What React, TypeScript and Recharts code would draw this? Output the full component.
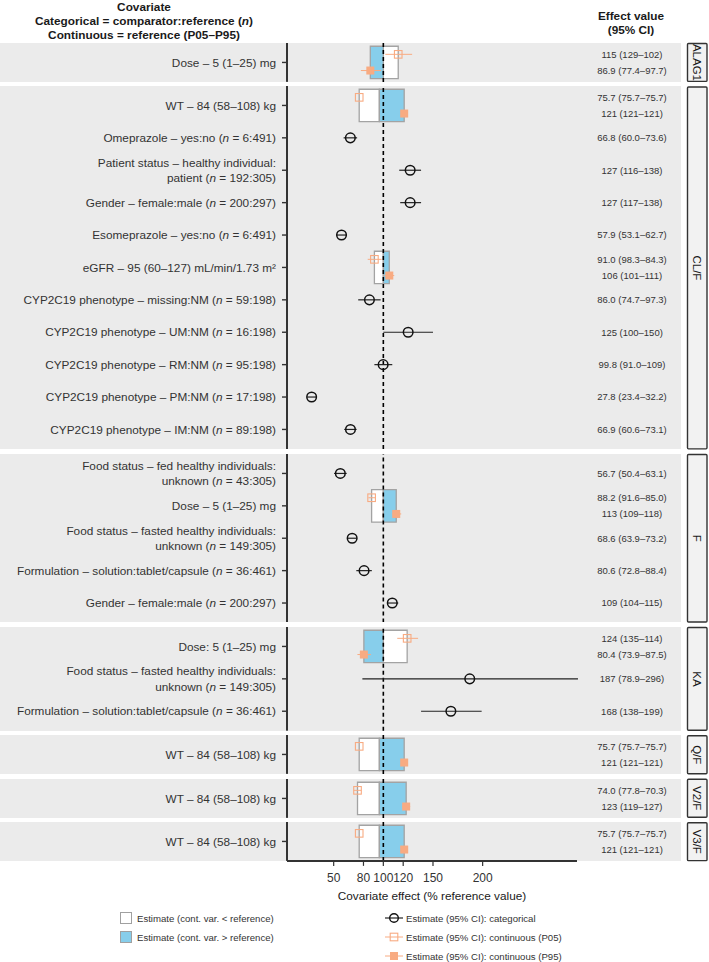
import React from 'react';
import {
  ComposedChart,
  XAxis,
  YAxis,
  Scatter,
  ErrorBar,
  ReferenceArea,
  ReferenceLine,
} from 'recharts';

const _ = null;

const facetNames = ['ALAG1', 'CL/F', 'F', 'KA', 'Q/F', 'V2/F', 'V3/F'];

const rowFacet = [
  'ALAG1',
  'CL/F', 'CL/F', 'CL/F', 'CL/F', 'CL/F', 'CL/F', 'CL/F', 'CL/F', 'CL/F', 'CL/F', 'CL/F',
  'F', 'F', 'F', 'F', 'F',
  'KA', 'KA', 'KA',
  'Q/F',
  'V2/F',
  'V3/F',
];

const rowLabels = [
  'Dose – 5 (1–25) mg',
  'WT – 84 (58–108) kg',
  'Omeprazole – yes:no (n = 6:491)',
  'Patient status – healthy individual:\npatient (n = 192:305)',
  'Gender – female:male (n = 200:297)',
  'Esomeprazole – yes:no (n = 6:491)',
  'eGFR – 95 (60–127) mL/min/1.73 m²',
  'CYP2C19 phenotype – missing:NM (n = 59:198)',
  'CYP2C19 phenotype – UM:NM (n = 16:198)',
  'CYP2C19 phenotype – RM:NM (n = 95:198)',
  'CYP2C19 phenotype – PM:NM (n = 17:198)',
  'CYP2C19 phenotype – IM:NM (n = 89:198)',
  'Food status – fed healthy individuals:\nunknown (n = 43:305)',
  'Dose – 5 (1–25) mg',
  'Food status – fasted healthy individuals:\nunknown (n = 149:305)',
  'Formulation – solution:tablet/capsule (n = 36:461)',
  'Gender – female:male (n = 200:297)',
  'Dose: 5 (1–25) mg',
  'Food status – fasted healthy individuals:\nunknown (n = 149:305)',
  'Formulation – solution:tablet/capsule (n = 36:461)',
  'WT – 84 (58–108) kg',
  'WT – 84 (58–108) kg',
  'WT – 84 (58–108) kg',
];

// categorical covariates: estimate and 95% CI
const catEst = [_, _, 66.8, 127, 127, 57.9, _, 86.0, 125, 99.8, 27.8, 66.9, 56.7, _, 68.6, 80.6, 109, _, 187, 168, _, _, _];
const catLo = [_, _, 60.0, 116, 117, 53.1, _, 74.7, 100, 91.0, 23.4, 60.6, 50.4, _, 63.9, 72.8, 104, _, 78.9, 138, _, _, _];
const catHi = [_, _, 73.6, 138, 138, 62.7, _, 97.3, 150, 109, 32.2, 73.1, 63.1, _, 73.2, 88.4, 115, _, 296, 199, _, _, _];

// continuous covariates at P05 / P95 (CI as printed)
const p05Est = [115, 75.7, _, _, _, _, 91.0, _, _, _, _, _, _, 88.2, _, _, _, 124, _, _, 75.7, 74.0, 75.7];
const p05CiA = [129, 75.7, _, _, _, _, 98.3, _, _, _, _, _, _, 91.6, _, _, _, 135, _, _, 75.7, 77.8, 75.7];
const p05CiB = [102, 75.7, _, _, _, _, 84.3, _, _, _, _, _, _, 85.0, _, _, _, 114, _, _, 75.7, 70.3, 75.7];
const p95Est = [86.9, 121, _, _, _, _, 106, _, _, _, _, _, _, 113, _, _, _, 80.4, _, _, 121, 123, 121];
const p95CiA = [77.4, 121, _, _, _, _, 101, _, _, _, _, _, _, 109, _, _, _, 73.9, _, _, 121, 119, 121];
const p95CiB = [97.7, 121, _, _, _, _, 111, _, _, _, _, _, _, 118, _, _, _, 87.5, _, _, 121, 127, 121];
const boxBase = [100, 96, _, _, _, _, 100, _, _, _, _, _, _, 100, _, _, _, 100, _, _, 96, 96, 96];

const xTicks = [50, 80, 100, 120, 150, 200];

const FONT = '"Liberation Sans", Arial, Helvetica, sans-serif';
const ORANGE = '#F8AB82';
const BLUE = '#87CEEB';
const BOX_LINE = '#A3A3A3';
const ROW = 32.4;
const GAP = 4.6;
const TOP = 43;
const PANEL_W = 681;
const LEFT_W = 287;
const RIGHT_W = 104;

const fmt = (v: number) => (v >= 100 ? v.toFixed(0) : v.toFixed(1));

function rich(line: string) {
  const k = line.indexOf('(n ');
  if (k < 0) return line;
  return (
    <>
      {line.slice(0, k + 1)}
      <tspan fontStyle="italic">n</tspan>
      {line.slice(k + 2)}
    </>
  );
}

const OpenCircle = (p: any) => (
  <circle cx={p.cx} cy={p.cy} r={4.8} fill="none" stroke="#111" strokeWidth={1.5} />
);
const OpenSquare = (p: any) => (
  <rect x={p.cx - 3.8} y={p.cy - 3.8} width={7.6} height={7.6} fill="none" stroke={ORANGE} strokeWidth={1.1} />
);
const FullSquare = (p: any) => (
  <rect x={p.cx - 4} y={p.cy - 4} width={8} height={8} fill={ORANGE} stroke="none" />
);

function buildFacets() {
  let top = TOP;
  return facetNames.map((name) => {
    const rows = rowFacet.map((f, i) => (f === name ? i : -1)).filter((i) => i >= 0);
    const h = (rows.length + 0.2) * ROW;
    const out = { name, rows, top, h };
    top += h + GAP;
    return out;
  });
}

function FacetChart({ rows, h, last }: { rows: number[]; h: number; last: boolean }) {
  const n = rows.length;
  const domain = [-0.6, n - 0.4];
  const ticks = rows.map((_g, i) => i);

  const cat: any[] = [];
  const p05: any[] = [];
  const p95: any[] = [];
  const boxes: any[] = [];
  rows.forEach((g, i) => {
    if (catEst[g] != null) {
      cat.push({ x: catEst[g], y: i, err: [catEst[g]! - catLo[g]!, catHi[g]! - catEst[g]!] });
    }
    if (p05Est[g] != null) {
      const lo5 = Math.min(p05CiA[g]!, p05CiB[g]!);
      const hi5 = Math.max(p05CiA[g]!, p05CiB[g]!);
      const lo95 = Math.min(p95CiA[g]!, p95CiB[g]!);
      const hi95 = Math.max(p95CiA[g]!, p95CiB[g]!);
      p05.push({ x: p05Est[g], y: i - 0.25, err: [p05Est[g]! - lo5, hi5 - p05Est[g]!] });
      p95.push({ x: p95Est[g], y: i + 0.25, err: [p95Est[g]! - lo95, hi95 - p95Est[g]!] });
      boxes.push({ a: boxBase[g], b: p05Est[g], y: i, fill: '#FFFFFF' });
      boxes.push({ a: boxBase[g], b: p95Est[g], y: i, fill: BLUE });
    }
  });

  const LeftTick = (props: any) => {
    const g = rows[props.payload.value];
    const lines = rowLabels[g].split('\n');
    return (
      <text x={props.x} y={props.y} textAnchor="end" fontSize={11.8} fill="#333" fontFamily={FONT}>
        {lines.map((ln, k) => (
          <tspan key={k} x={props.x} y={props.y + (k - (lines.length - 1) / 2) * 15.5} dy="0.36em">
            {rich(ln)}
          </tspan>
        ))}
      </text>
    );
  };

  const RightTick = (props: any) => {
    const g = rows[props.payload.value];
    const lines =
      catEst[g] != null
        ? [`${fmt(catEst[g]!)} (${fmt(catLo[g]!)}–${fmt(catHi[g]!)})`]
        : [
            `${fmt(p05Est[g]!)} (${fmt(p05CiA[g]!)}–${fmt(p05CiB[g]!)})`,
            `${fmt(p95Est[g]!)} (${fmt(p95CiA[g]!)}–${fmt(p95CiB[g]!)})`,
          ];
    const cx = props.x + 55;
    return (
      <text x={cx} y={props.y} textAnchor="middle" fontSize={9.5} fill="#333" fontFamily={FONT}>
        {lines.map((ln, k) => (
          <tspan key={k} x={cx} y={props.y + (k - (lines.length - 1) / 2) * 16.4} dy="0.36em">
            {ln}
          </tspan>
        ))}
      </text>
    );
  };

  return (
    <ComposedChart
      width={PANEL_W}
      height={last ? h + 48 : h}
      margin={{ top: 0, right: 0, bottom: 0, left: 0 }}
      style={{ fontFamily: FONT }}
    >
      <XAxis
        type="number"
        dataKey="x"
        domain={[3, 295]}
        allowDataOverflow
        ticks={xTicks}
        interval={0}
        hide={!last}
        height={48}
        tickSize={5}
        tickMargin={8}
        axisLine={{ stroke: '#333', strokeWidth: 2 }}
        tickLine={{ stroke: '#333', strokeWidth: 1.2 }}
        tick={{ fontSize: 12, fill: '#333', fontFamily: FONT }}
        label={{
          value: 'Covariate effect (% reference value)',
          position: 'insideBottom',
          offset: 9,
          fontSize: 11.8,
          fill: '#1a1a1a',
          fontFamily: FONT,
        }}
      />
      <YAxis
        yAxisId="left"
        type="number"
        dataKey="y"
        domain={domain}
        reversed
        allowDataOverflow
        ticks={ticks}
        interval={0}
        width={LEFT_W}
        tickSize={5}
        tickMargin={6}
        axisLine={{ stroke: '#333', strokeWidth: 2 }}
        tickLine={{ stroke: '#333', strokeWidth: 1.4 }}
        tick={LeftTick}
      />
      <YAxis
        yAxisId="right"
        orientation="right"
        type="number"
        dataKey="y"
        domain={domain}
        reversed
        allowDataOverflow
        ticks={ticks}
        interval={0}
        width={RIGHT_W}
        tickSize={0}
        tickMargin={0}
        axisLine={false}
        tickLine={false}
        tick={RightTick}
      />
      {boxes.map((b, k) => (
        <ReferenceArea
          key={k}
          yAxisId="left"
          x1={Math.min(b.a, b.b)}
          x2={Math.max(b.a, b.b)}
          y1={b.y - 0.5}
          y2={b.y + 0.5}
          fill={b.fill}
          fillOpacity={1}
          stroke={BOX_LINE}
          strokeWidth={1.3}
          ifOverflow="visible"
        />
      ))}
      <ReferenceLine yAxisId="left" x={100} stroke="#000" strokeWidth={1.6} strokeDasharray="4 3" />
      <Scatter yAxisId="left" data={cat} shape={OpenCircle} isAnimationActive={false}>
        <ErrorBar dataKey="err" direction="x" width={0} stroke="#222" strokeWidth={1.2} />
      </Scatter>
      <Scatter yAxisId="left" data={p05} shape={OpenSquare} isAnimationActive={false}>
        <ErrorBar dataKey="err" direction="x" width={0} stroke={ORANGE} strokeWidth={1} />
      </Scatter>
      <Scatter yAxisId="left" data={p95} shape={FullSquare} isAnimationActive={false}>
        <ErrorBar dataKey="err" direction="x" width={0} stroke={ORANGE} strokeWidth={1} />
      </Scatter>
    </ComposedChart>
  );
}

export default function App() {
  const facets = buildFacets();
  return (
    <div
      style={{
        position: 'absolute',
        left: 0,
        top: 0,
        width: 709,
        height: 962,
        background: '#fff',
        fontFamily: FONT,
        overflow: 'hidden',
      }}
    >
      {facets.map((f) => (
        <div
          key={f.name}
          style={{ position: 'absolute', left: 0, top: f.top, width: PANEL_W, height: f.h, background: '#EBEBEB' }}
        />
      ))}
      {facets.map((f, k) => (
        <div key={f.name} style={{ position: 'absolute', left: 0, top: f.top }}>
          <FacetChart rows={f.rows} h={f.h} last={k === facets.length - 1} />
        </div>
      ))}
      <svg
        width={709}
        height={962}
        style={{ position: 'absolute', left: 0, top: 0, pointerEvents: 'none' }}
        fontFamily={FONT}
      >
        <g fontWeight="bold" fontSize={11.8} fill="#1a1a1a" textAnchor="middle">
          <text x={144} y={11}>Covariate</text>
          <text x={144} y={25}>
            Categorical = comparator:reference (<tspan fontStyle="italic">n</tspan>)
          </text>
          <text x={144} y={39}>Continuous = reference (P05–P95)</text>
          <text x={631} y={20}>Effect value</text>
          <text x={631} y={34}>(95% CI)</text>
        </g>
        {facets.map((f) => (
          <g key={f.name}>
            <rect x={687.5} y={f.top + 0.5} width={19.5} height={f.h - 1} fill="#F2F2F2" stroke="#333" strokeWidth={1.4} rx={1} />
            <text
              x={697}
              y={f.top + f.h / 2}
              transform={`rotate(90 697 ${f.top + f.h / 2})`}
              textAnchor="middle"
              dominantBaseline="central"
              fontSize={11.5}
              fill="#1a1a1a"
            >
              {f.name}
            </text>
          </g>
        ))}
        <g fontSize={9.6} fill="#333">
          <rect x={120.5} y={912.5} width={11} height={11} fill="#fff" stroke="#A0A0A0" />
          <text x={137} y={918} dominantBaseline="central">Estimate (cont. var. &lt; reference)</text>
          <rect x={120.5} y={931.5} width={11} height={11} fill={BLUE} stroke="#A0A0A0" />
          <text x={137} y={937} dominantBaseline="central">Estimate (cont. var. &gt; reference)</text>

          <line x1={385} x2={403} y1={918} y2={918} stroke="#222" strokeWidth={1.2} />
          <circle cx={394} cy={918} r={4.3} fill="none" stroke="#111" strokeWidth={1.4} />
          <text x={406} y={918} dominantBaseline="central">Estimate (95% CI): categorical</text>

          <line x1={385} x2={403} y1={937} y2={937} stroke={ORANGE} strokeWidth={1} />
          <rect x={390.2} y={933.2} width={7.6} height={7.6} fill="none" stroke={ORANGE} strokeWidth={1.1} />
          <text x={406} y={937} dominantBaseline="central">Estimate (95% CI): continuous (P05)</text>

          <line x1={385} x2={403} y1={956} y2={956} stroke={ORANGE} strokeWidth={1} />
          <rect x={390} y={952} width={8} height={8} fill={ORANGE} />
          <text x={406} y={956} dominantBaseline="central">Estimate (95% CI): continuous (P95)</text>
        </g>
      </svg>
    </div>
  );
}
